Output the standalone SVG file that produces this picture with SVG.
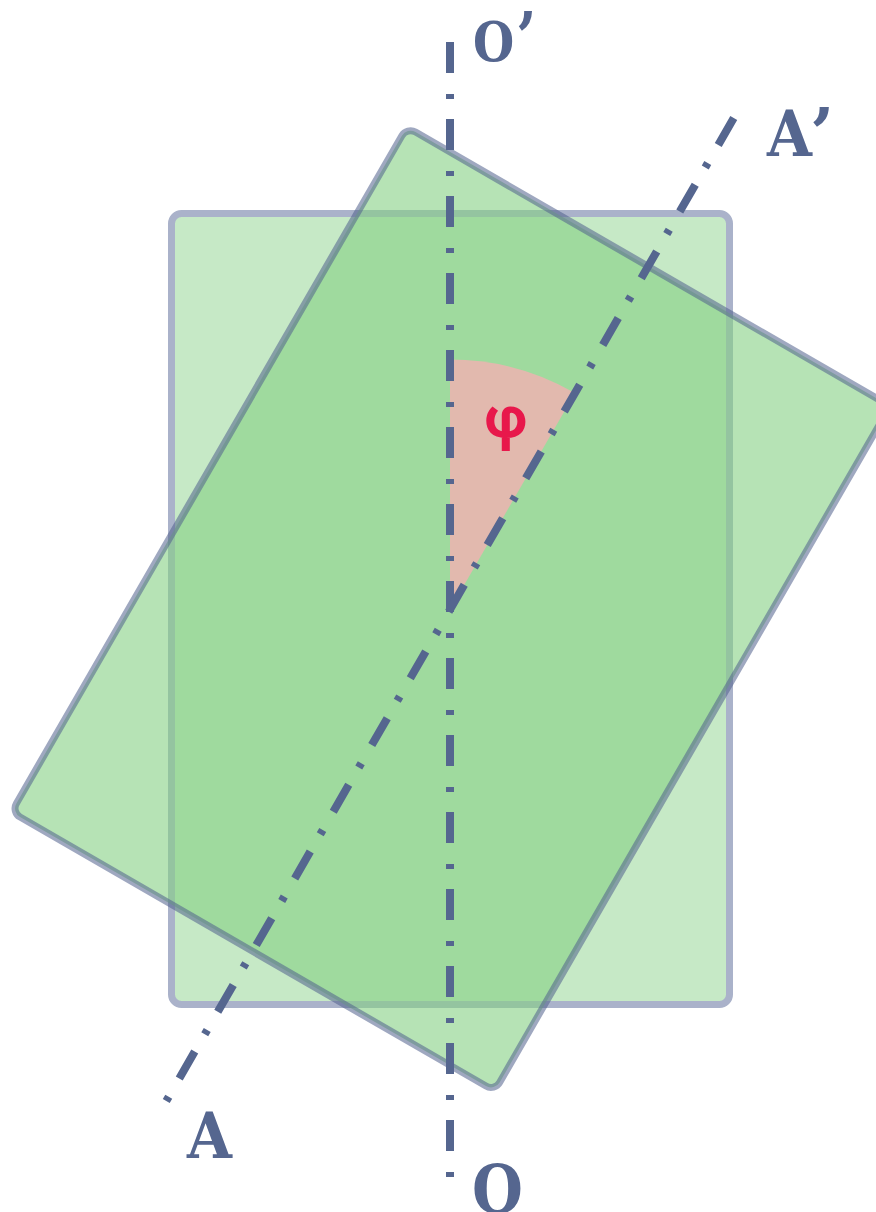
<svg xmlns="http://www.w3.org/2000/svg" width="876" height="1212" viewBox="0 0 876 1212">
  <style>
    .axis { stroke: #55668f; stroke-width: 8; stroke-dasharray: 31 21 5 20; stroke-linecap: butt; fill: none; }
    .lbl { font-family: "DejaVu Serif", "Liberation Serif", serif; font-weight: bold; fill: #55668f; }
    .phi { font-family: Roboto, "DejaVu Sans", sans-serif; font-weight: bold; fill: #e8184b; }
  </style>
  <rect width="876" height="1212" fill="#ffffff"/>
  <g id="rect-original">
    <rect x="171.5" y="213.5" width="558" height="791" rx="10" fill="#c6e9c6" stroke="#aab2ca" stroke-width="7"/>
  </g>
  <g id="rect-rotated">
    <rect x="171.5" y="213.5" width="558" height="791" rx="10" transform="rotate(30 450.5 609.5)" fill="rgb(133,208,132)" fill-opacity="0.6" stroke="rgb(80,96,140)" stroke-opacity="0.55" stroke-width="7"/>
  </g>
  <g id="angle-phi">
    <path d="M450,609.5 L450,359.5 A250,250 0 0 1 575,393 Z" fill="#e2b9ae"/>
    <text class="phi" x="506" y="437" font-size="57" text-anchor="middle">φ</text>
  </g>
  <g id="connectors">
    <line id="axis-OO" class="axis" x1="450" y1="42" x2="450" y2="1177"/>
    <line id="axis-AA" class="axis" x1="450" y1="42" x2="450" y2="1177" transform="rotate(30 450 609.5)"/>
  </g>
  <g id="label-O-prime">
    <text class="lbl" transform="translate(473,61) scale(0.86,1)" font-size="55">O</text>
    <text class="lbl" transform="translate(516,62) scale(0.85,1)" font-size="70">’</text>
  </g>
  <g id="label-A-prime">
    <text class="lbl" transform="translate(767,156) scale(0.92,1)" font-size="63">A</text>
    <text class="lbl" x="810" y="158" font-size="70">’</text>
  </g>
  <g id="label-A">
    <text class="lbl" transform="translate(187,1158) scale(0.92,1)" font-size="63">A</text>
  </g>
  <g id="label-O">
    <text class="lbl" transform="translate(472,1213) scale(0.86,1)" font-size="68">O</text>
  </g>
</svg>
